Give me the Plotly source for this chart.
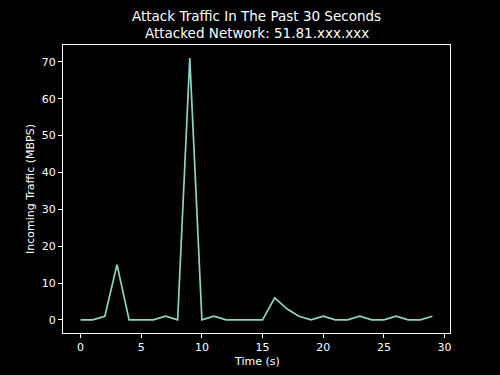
import plotly.graph_objects as go

time_s = list(range(30))
traffic = [0, 0, 1, 15, 0, 0, 0, 1, 0, 71, 0, 1, 0, 0, 0, 0, 6, 3, 1, 0, 1, 0, 0, 1, 0, 0, 1, 0, 0, 1]
x_ticks = [0, 5, 10, 15, 20, 25, 30]
y_ticks = [0, 10, 20, 30, 40, 50, 60, 70]

FONT = "DejaVu Sans"

fig = go.Figure()
fig.add_trace(go.Scatter(x=time_s, y=traffic, mode="lines",
                         line=dict(color="#8dd3c7", width=1.7)))

axis_common = dict(showgrid=False, zeroline=False, showline=True, mirror=True,
                   linecolor="white", linewidth=1, ticks="outside", ticklen=4,
                   tickcolor="white", tickwidth=1, automargin=False,
                   tickfont=dict(family=FONT, size=11, color="white"))

fig.update_layout(
    width=500, height=375,
    paper_bgcolor="black", plot_bgcolor="black",
    margin=dict(l=63, r=50, t=45, b=42),
    showlegend=False,
    xaxis=dict(range=[-1.45, 30.45], tickvals=x_ticks, **axis_common),
    yaxis=dict(range=[-3.55, 74.55], tickvals=y_ticks, **axis_common),
    annotations=[
        dict(text="Attack Traffic In The Past 30 Seconds", xref="paper", yref="paper",
             x=0.5, y=1, yshift=29, xanchor="center", yanchor="middle", showarrow=False,
             font=dict(family=FONT, size=13.5, color="white")),
        dict(text="Attacked Network: 51.81.xxx.xxx", xref="paper", yref="paper",
             x=0.5, y=1, yshift=12, xanchor="center", yanchor="middle", showarrow=False,
             font=dict(family=FONT, size=13.5, color="white")),
        dict(text="Time (s)", xref="paper", yref="paper",
             x=0.5, y=0, yshift=-28, xanchor="center", yanchor="middle", showarrow=False,
             font=dict(family=FONT, size=11, color="white")),
        dict(text="Incoming Traffic (MBPS)", xref="paper", yref="paper", textangle=-90,
             x=0, xshift=-33, y=0.5, xanchor="center", yanchor="middle", showarrow=False,
             font=dict(family=FONT, size=11, color="white")),
    ],
)

fig.write_html("out.html")
